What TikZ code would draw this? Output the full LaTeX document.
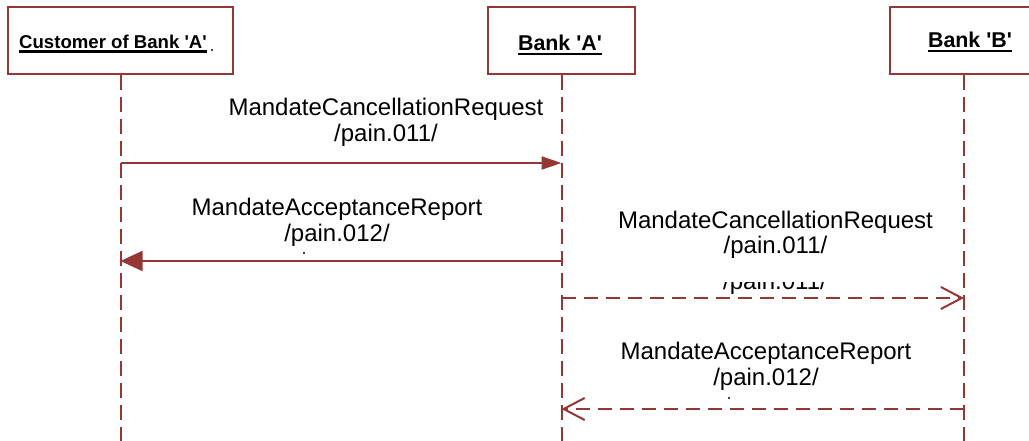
\documentclass[tikz,border=0pt]{standalone}
\usepackage{fontspec}
\setmainfont{Liberation Sans}
\usetikzlibrary{arrows.meta}
\definecolor{lifered}{RGB}{149,55,53}
% bold title with a heavy underline
\newcommand\ulname[1]{\setbox0\hbox{#1}\rlap{\vrule height -0.08em depth 0.19em width \wd0}\box0}
\begin{document}
\begin{tikzpicture}[x=1pt,y=-1pt,
  actorbox/.style={draw=lifered, line width=2.6pt, fill=white, inner sep=0pt, minimum height=67pt},
  actortitle/.style={inner sep=0pt, anchor=base},
  lifeline/.style={draw=lifered, line width=2pt, dash pattern=on 15pt off 7pt},
  syncmsg/.style={draw=lifered, line width=2pt},
  asyncmsg/.style={draw=lifered, line width=2pt, dash pattern=on 14pt off 8pt},
  msglabel/.style={font=\fontsize{24}{25.5}\selectfont, align=center, inner sep=0pt, anchor=north},
  speck/.style={fill=black}]

\clip (0,0) rectangle (1029,441);

% participants
\node[actorbox, minimum width=225pt] (cust)  at (120.5,40.5) {};
\node[actorbox, minimum width=147pt] (bankA) at (561.5,40.5) {};
\node[actorbox, minimum width=148pt] (bankB) at (964,40.5) {};

\node[actortitle, anchor=base west, font=\fontsize{18.6}{20}\selectfont\bfseries] (custname) at (19,49)
  {\ulname{Customer of Bank \textquotesingle A\textquotesingle}};
\node[actortitle, font=\fontsize{21.4}{23}\selectfont\bfseries] (bankAname) at (560,51)
  {\ulname{Bank \textquotesingle A\textquotesingle}};
\node[actortitle, font=\fontsize{21.4}{23}\selectfont\bfseries] (bankBname) at (970,48)
  {\ulname{Bank \textquotesingle B\textquotesingle}};

% lifelines
\coordinate (custend)  at (120.5,445);
\coordinate (bankAend) at (561.5,445);
\coordinate (bankBend) at (964,445);
\draw[lifeline] (cust.south)  -- (custend);
\draw[lifeline] (bankA.south) -- (bankAend);
\draw[lifeline] (bankB.south) -- (bankBend);

% message anchors on the lifelines
\coordinate (m1s) at (120.5,163);
\coordinate (m1e) at (561.5,163);
\coordinate (m2s) at (561.5,261);
\coordinate (m2e) at (120.5,261);
\coordinate (m3s) at (561.5,298);
\coordinate (m3e) at (964,298);
\coordinate (m4s) at (964,409);
\coordinate (m4e) at (561.5,409);

% messages
\draw[syncmsg, -{Triangle[length=20pt,width=13pt]}] (m1s) -- (m1e);
\draw[syncmsg, -{Triangle[length=22pt,width=20pt]}] (m2s) -- (m2e);
\draw[asyncmsg, -{Straight Barb[length=21pt,width=22pt]}] (m3s) -- (m3e);
\draw[asyncmsg, -{Straight Barb[length=21pt,width=22pt]}] (m4s) -- (m4e);

% message labels
\node[msglabel] (l1) at (386,98)    {MandateCancellationRequest\\/pain.011/};
\node[msglabel] (l2) at (337,198)   {MandateAcceptanceReport\\/pain.012/};
\node[msglabel] (l3) at (775.5,210.5) {MandateCancellationRequest\\/pain.011/};
\node[msglabel] (l4) at (766,342)   {MandateAcceptanceReport\\/pain.012/};

% lower edge of an overlapped copy of the third label
\begin{scope}
  \clip (700,282.5) rectangle (850,296);
  \node[font=\fontsize{24}{25}\selectfont, inner sep=0pt, anchor=base] (l3copy) at (775,289) {/pain.011/};
\end{scope}

% stray specks
\fill[speck] (212,50) circle (1.1);
\fill[speck] (304,253) circle (1.1);
\fill[speck] (729,398) circle (1.1);
\end{tikzpicture}
\end{document}
